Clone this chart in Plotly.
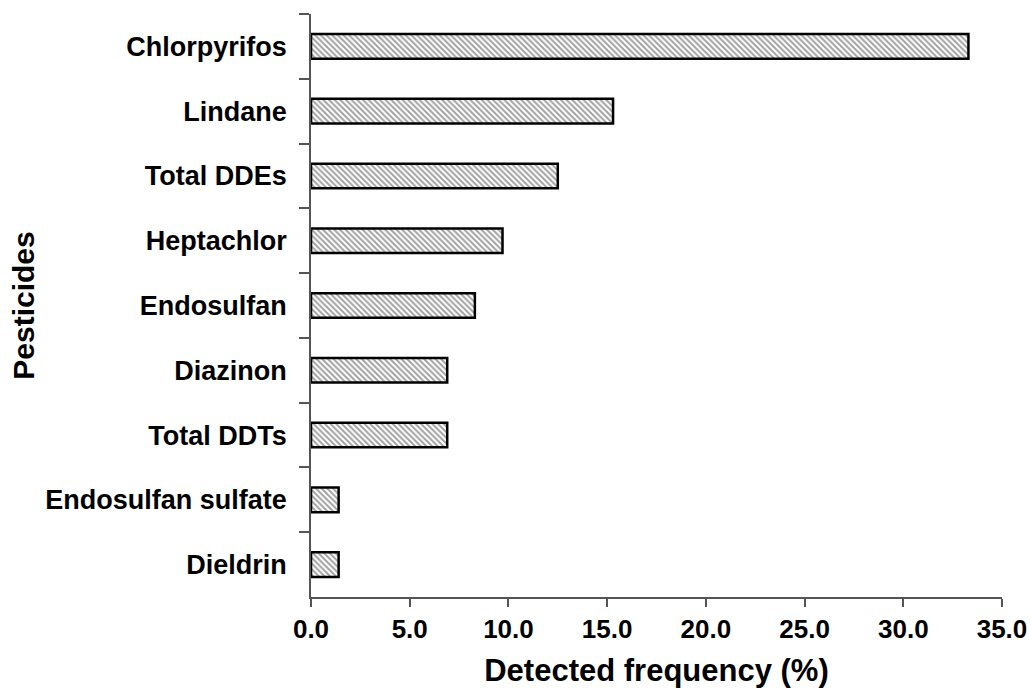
import plotly.graph_objects as go

# Detection frequency of pesticides (%)
pesticides = [
    "Chlorpyrifos", "Lindane", "Total DDEs", "Heptachlor", "Endosulfan",
    "Diazinon", "Total DDTs", "Endosulfan sulfate", "Dieldrin",
]
frequency = [33.3, 15.3, 12.5, 9.7, 8.3, 6.9, 6.9, 1.4, 1.4]

x_ticks = [0, 5, 10, 15, 20, 25, 30, 35]
x_tick_labels = ["0.0", "5.0", "10.0", "15.0", "20.0", "25.0", "30.0", "35.0"]

FONT = "Liberation Sans, Arial, sans-serif"
AXIS_COLOR = "#555555"

fig = go.Figure(
    go.Bar(
        x=frequency,
        y=pesticides,
        orientation="h",
        width=0.38,
        marker=dict(
            color="white",
            line=dict(color="black", width=2.5),
            pattern=dict(shape="\\", size=4, solidity=0.5,
                         fgcolor="#444444", bgcolor="white"),
        ),
        hoverinfo="x+y",
    )
)

fig.update_layout(
    width=1031,
    height=695,
    margin=dict(l=311, r=29, t=14, b=98),
    paper_bgcolor="white",
    plot_bgcolor="white",
    showlegend=False,
    font=dict(family=FONT, color="black"),
)

fig.update_xaxes(
    range=[0, 35],
    tickvals=x_ticks,
    ticktext=x_tick_labels,
    ticks="outside",
    ticklen=8,
    tickwidth=1.5,
    tickcolor=AXIS_COLOR,
    showline=True,
    linecolor=AXIS_COLOR,
    linewidth=1.5,
    showgrid=False,
    zeroline=False,
    automargin=False,
    tickfont=dict(family=FONT, size=26, weight="bold", color="black"),
    title=dict(text="Detected frequency (%)",
               font=dict(family=FONT, size=31, weight="bold", color="black"),
               standoff=16),
)

fig.update_yaxes(
    type="category",
    categoryorder="array",
    categoryarray=pesticides,
    autorange="reversed",
    tickson="boundaries",
    ticks="outside",
    ticklen=10,
    tickwidth=1.5,
    tickcolor=AXIS_COLOR,
    showline=True,
    linecolor=AXIS_COLOR,
    linewidth=1.5,
    showgrid=False,
    zeroline=False,
    automargin=False,
    ticklabelstandoff=17,
    tickfont=dict(family=FONT, size=27, weight="bold", color="black"),
    title=dict(text="Pesticides",
               font=dict(family=FONT, size=30, weight="bold", color="black"),
               standoff=2),
)

fig.write_html("out.html")
